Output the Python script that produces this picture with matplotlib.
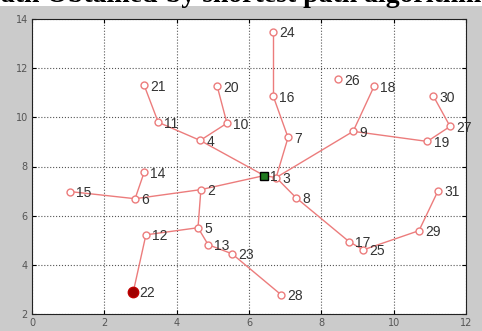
import matplotlib
matplotlib.use("Agg")
import matplotlib.pyplot as plt
from matplotlib.patches import Rectangle

# node ids and positions
node_id = [1, 2, 3, 4, 5, 6, 7, 8, 9, 10,
           11, 12, 13, 14, 15, 16, 17, 18, 19, 20,
           21, 22, 23, 24, 25, 26, 27, 28, 29, 30, 31]
node_x = [6.42, 4.67, 6.75, 4.65, 4.59, 2.85, 7.08, 7.30, 8.88, 5.39,
          3.49, 3.15, 4.87, 3.10, 1.05, 6.67, 8.77, 9.46, 10.93, 5.12,
          3.10, 2.80, 5.53, 6.67, 9.16, 8.46, 11.56, 6.89, 10.70, 11.10, 11.23]
node_y = [7.63, 7.06, 7.55, 9.06, 5.51, 6.69, 9.18, 6.73, 9.43, 9.76,
          9.80, 5.22, 4.82, 7.76, 6.98, 10.86, 4.94, 11.27, 9.02, 11.27,
          11.31, 2.90, 4.45, 13.47, 4.61, 11.55, 9.63, 2.78, 5.39, 10.86, 7.02]

# tree edges (parent, child)
edges = [(1, 2), (2, 6), (6, 15), (6, 14), (2, 5), (5, 12), (12, 22),
         (5, 13), (13, 23), (23, 28), (1, 4), (4, 11), (11, 21), (4, 10),
         (10, 20), (1, 3), (3, 7), (7, 16), (16, 24), (3, 9), (9, 18),
         (9, 19), (19, 27), (27, 30), (3, 8), (8, 17), (17, 25), (25, 29),
         (29, 31)]

source = 1
target = 22

pos = {n: (x, y) for n, x, y in zip(node_id, node_x, node_y)}
line_col = '#ec7c7c'

fig = plt.figure(figsize=(4.82, 3.31), dpi=100, facecolor='#cbcbcb')
# white strip of the page above the figure, with the caption
fig.patches.append(Rectangle((0, 1 - 6 / 331), 1, 6 / 331, transform=fig.transFigure,
                             facecolor='white', edgecolor='none', zorder=0))
cap_y = 1 - 1.5 / 331
fig.text(158 / 482, cap_y, 'Optimal Path Obtained', ha='right', va='baseline',
         fontsize=20, fontweight='bold', family='Liberation Serif', color='black')
fig.text(166 / 482, cap_y, 'by shortest path algorithm', ha='left', va='baseline',
         fontsize=20, fontweight='bold', family='Liberation Serif', color='black')

ax = fig.add_axes([32 / 482, 17 / 331, 434 / 482, 295 / 331])
ax.set_facecolor('white')

for a, b in edges:
    ax.plot([pos[a][0], pos[b][0]], [pos[a][1], pos[b][1]], '-',
            color=line_col, lw=1.0, zorder=2)

for n in node_id:
    x, y = pos[n]
    if n == source:
        ax.plot(x, y, 's', ms=5.5, mfc='#1f7a1f', mec='black', mew=1.0, zorder=4)
    elif n == target:
        ax.plot(x, y, 'o', ms=7.5, mfc='#a00000', mec='#c00000', mew=1.0, zorder=4)
    else:
        ax.plot(x, y, 'o', ms=5, mfc='white', mec=line_col, mew=1.0, zorder=3)
    ax.annotate(str(n), (x, y), xytext=(4.5, -1), textcoords='offset points',
                ha='left', va='center', fontsize=10, family='Liberation Sans',
                color='#333333', zorder=5)

ax.set_xlim(0, 12)
ax.set_ylim(2, 14)
ax.set_xticks(range(0, 13, 2))
ax.set_yticks(range(2, 15, 2))
ax.grid(True, linestyle=':', color='#555555', lw=0.8)
ax.set_axisbelow(True)
ax.tick_params(direction='in', length=3, labelsize=7, labelcolor='#555555',
               top=True, right=True, pad=3)
for s in ax.spines.values():
    s.set_linewidth(0.8)
    s.set_color('#222222')

fig.savefig('out.png', dpi=100, facecolor=fig.get_facecolor())
